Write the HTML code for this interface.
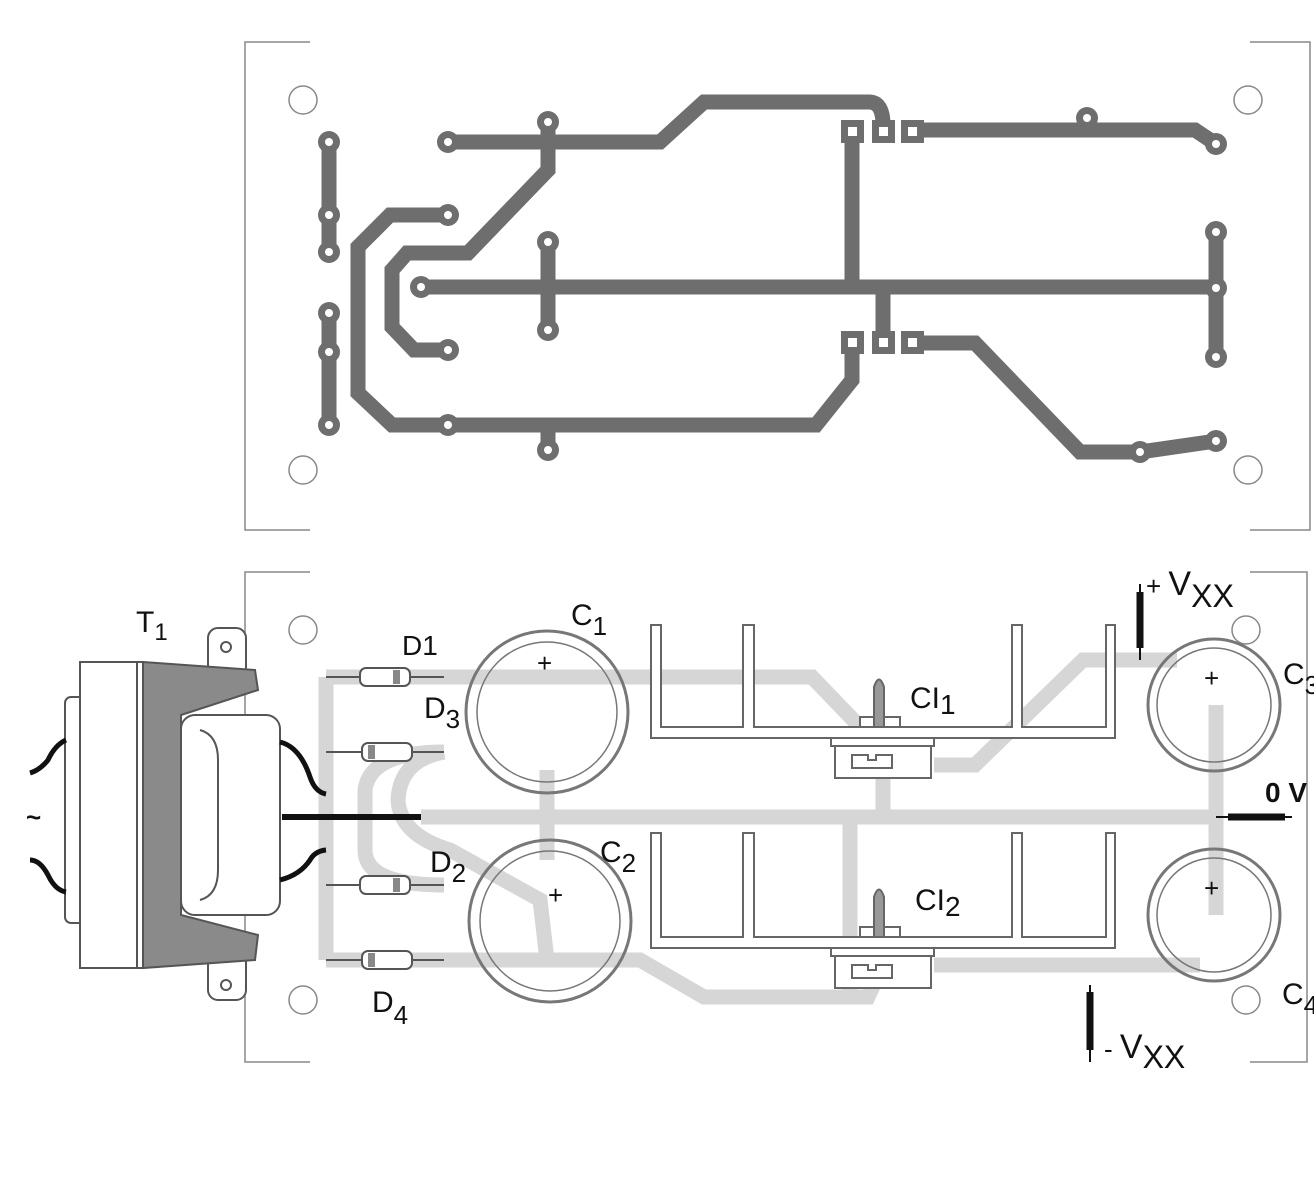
<!DOCTYPE html>
<html><head><meta charset="utf-8"><style>
html,body{margin:0;padding:0;background:#fff;}
svg{display:block;}
text{font-family:"Liberation Sans",Arial,sans-serif;fill:#111;}
</style></head><body>
<svg width="1314" height="1181" viewBox="0 0 1314 1181" xmlns="http://www.w3.org/2000/svg">
<rect width="1314" height="1181" fill="#fff"/>
<!-- TOP PCB outline -->
<g stroke="#888" stroke-width="1.5" fill="none">
<path d="M310 42 H245 V530 H310"/>
<path d="M1250 42 H1310 V530 H1250"/>
<circle cx="303" cy="100" r="14"/><circle cx="303" cy="470" r="14"/>
<circle cx="1248" cy="100" r="14"/><circle cx="1248" cy="470" r="14"/>
</g>
<g stroke="#6e6e6e" stroke-width="15" fill="none" stroke-linejoin="miter">
<path d="M329 142 V252"/><path d="M329 313 V425"/>
<path d="M448 142 H660 L704 102 H869 Q883 102 883 125 V132"/>
<path d="M548 122 V170 L468 253 H407 L392 270 V327 L414 350 H448"/>
<path d="M448 215 H390 L358 247 V393 L392 425 H816 L852 380 V343"/>
<path d="M548 425 V450"/>
<path d="M421 287 H1216"/>
<path d="M548 242 V330"/>
<path d="M852 132 V287"/><path d="M883 287 V343"/>
<path d="M912 130 H1195 L1216 144"/>
<path d="M1216 232 V357"/>
<path d="M1087 118 V130"/>
<path d="M912 343 H975 L1080 452 H1140 L1216 441"/>
</g>
<g fill="#6e6e6e">
<circle cx="329" cy="142" r="11"/><circle cx="329" cy="215" r="11"/><circle cx="329" cy="252" r="11"/>
<circle cx="329" cy="313" r="11"/><circle cx="329" cy="352" r="11"/><circle cx="329" cy="425" r="11"/>
<circle cx="448" cy="142" r="11"/><circle cx="548" cy="122" r="11"/><circle cx="448" cy="215" r="11"/>
<circle cx="421" cy="287" r="11"/><circle cx="548" cy="242" r="11"/><circle cx="548" cy="330" r="11"/>
<circle cx="448" cy="350" r="11"/><circle cx="448" cy="425" r="11"/><circle cx="548" cy="450" r="11"/>
<circle cx="1087" cy="118" r="11"/><circle cx="1216" cy="144" r="11"/><circle cx="1216" cy="232" r="11"/>
<circle cx="1216" cy="288" r="11"/><circle cx="1216" cy="357" r="11"/><circle cx="1216" cy="441" r="11"/>
<circle cx="1140" cy="452" r="11"/>
<rect x="841" y="120" width="23" height="23"/><rect x="872" y="120" width="23" height="23"/><rect x="901" y="120" width="23" height="23"/>
<rect x="841" y="331" width="23" height="23"/><rect x="872" y="331" width="23" height="23"/><rect x="901" y="331" width="23" height="23"/>
</g>
<g fill="#fff">
<circle cx="329" cy="142" r="4"/><circle cx="329" cy="215" r="4"/><circle cx="329" cy="252" r="4"/>
<circle cx="329" cy="313" r="4"/><circle cx="329" cy="352" r="4"/><circle cx="329" cy="425" r="4"/>
<circle cx="448" cy="142" r="4"/><circle cx="548" cy="122" r="4"/><circle cx="448" cy="215" r="4"/>
<circle cx="421" cy="287" r="4"/><circle cx="548" cy="242" r="4"/><circle cx="548" cy="330" r="4"/>
<circle cx="448" cy="350" r="4"/><circle cx="448" cy="425" r="4"/><circle cx="548" cy="450" r="4"/>
<circle cx="1087" cy="118" r="4"/><circle cx="1216" cy="144" r="4"/><circle cx="1216" cy="232" r="4"/>
<circle cx="1216" cy="288" r="4"/><circle cx="1216" cy="357" r="4"/><circle cx="1216" cy="441" r="4"/>
<circle cx="1140" cy="452" r="4"/>
<rect x="848" y="127" width="9" height="9"/><rect x="879" y="127" width="9" height="9"/><rect x="908" y="127" width="9" height="9"/>
<rect x="848" y="338" width="9" height="9"/><rect x="879" y="338" width="9" height="9"/><rect x="908" y="338" width="9" height="9"/>
</g>

<!-- BOTTOM PCB -->
<g stroke="#888" stroke-width="1.5" fill="none">
<path d="M310 572 H245 V1062 H310"/>
<path d="M1250 572 H1307 V1062 H1250"/>
<circle cx="303" cy="630" r="14"/><circle cx="303" cy="1000" r="14"/>
<circle cx="1246" cy="630" r="14"/><circle cx="1246" cy="1000" r="14"/>
</g>
<g stroke="#d6d6d6" stroke-width="15" fill="none">
<path d="M326 677 V960"/>
<path d="M326 677 H812 L863 730"/>
<path d="M326 960 H640 L704 997 H868 L883 965"/>
<path d="M421 817 H1220"/>
<path d="M444 752 Q370 752 365 790 V850 Q365 885 444 885"/>
<path d="M444 752 Q400 760 398 800 Q400 835 450 850 L540 900 L547 960"/>
<path d="M547 770 V860"/>
<path d="M883 778 V817"/><path d="M850 817 V1003"/>
<path d="M934 765 H975 L1083 660 H1177"/>
<path d="M934 965 H1200"/>
<path d="M1216 705 V915"/>
</g>
<!-- Transformer -->
<g stroke="#555" stroke-width="2">
<rect x="208" y="628" width="38" height="50" rx="10" fill="#fff"/>
<rect x="208" y="950" width="38" height="50" rx="10" fill="#fff"/>
<circle cx="226" cy="647" r="5" fill="#fff"/><circle cx="226" cy="985" r="5" fill="#fff"/>
<rect x="65" y="697" width="20" height="226" rx="6" fill="#fff"/>
<path d="M143 662 L255 670 L258 690 L181 715 L181 915 L258 935 L255 960 L143 968 Z" fill="#8a8a8a"/>
<rect x="181" y="715" width="99" height="200" rx="14" fill="#fff"/>
<path d="M200 730 Q218 735 218 760 V870 Q218 895 200 900" fill="none"/>
<rect x="80" y="662" width="63" height="306" fill="#fff"/>
<line x1="137" y1="662" x2="137" y2="968"/>
</g>
<g stroke="#111" stroke-width="5" fill="none">
<path d="M30 773 Q40 770 48 760 Q55 745 66 740"/>
<path d="M30 860 Q40 860 48 875 Q55 890 66 892"/>
<path d="M280 742 Q300 747 310 777 Q315 792 326 794"/>
<path d="M280 880 Q300 875 310 860 Q315 851 326 850"/>
<line x1="282" y1="817" x2="421" y2="817" stroke-width="6"/>
</g>
<text x="26" y="826" font-size="26" font-weight="bold">~</text>
<!-- Diodes -->
<g stroke="#555" stroke-width="2" fill="#fff">
<line x1="326" y1="677" x2="444" y2="677"/><rect x="360" y="668" width="50" height="18" rx="6"/>
<line x1="326" y1="752" x2="444" y2="752"/><rect x="362" y="743" width="50" height="18" rx="6"/>
<line x1="326" y1="885" x2="444" y2="885"/><rect x="360" y="876" width="50" height="18" rx="6"/>
<line x1="326" y1="960" x2="444" y2="960"/><rect x="362" y="951" width="50" height="18" rx="6"/>
</g>
<g fill="#888"><rect x="393" y="670" width="7" height="14"/><rect x="368" y="745" width="7" height="14"/><rect x="393" y="878" width="7" height="14"/><rect x="368" y="953" width="7" height="14"/></g>
<!-- Capacitors -->
<g fill="none" stroke="#777">
<circle cx="547" cy="712" r="81" stroke-width="3"/><circle cx="547" cy="712" r="70" stroke-width="1.5"/>
<circle cx="550" cy="921" r="81" stroke-width="3"/><circle cx="550" cy="921" r="70" stroke-width="1.5"/>
<circle cx="1214" cy="705" r="66" stroke-width="3"/><circle cx="1214" cy="705" r="57" stroke-width="1.5"/>
<circle cx="1214" cy="915" r="66" stroke-width="3"/><circle cx="1214" cy="915" r="57" stroke-width="1.5"/>
</g>
<g font-size="26"><text x="537" y="672">+</text><text x="548" y="904">+</text><text x="1204" y="687">+</text><text x="1204" y="897">+</text></g>
<!-- Heatsinks -->
<g fill="#fff" stroke="#666" stroke-width="2">
<path d="M651 625 H661 V727 H743 V625 H754 V727 H1012 V625 H1022 V727 H1106 V625 H1115 V738 H651 Z"/>
<path d="M651 833 H661 V937 H743 V833 H754 V937 H1012 V833 H1022 V937 H1106 V833 H1115 V948 H651 Z"/>
<rect x="831" y="738" width="103" height="8"/><rect x="835" y="746" width="96" height="32"/>
<path d="M852 755 H868 V760 H876 V755 H892 V768 H852 Z"/>
<rect x="831" y="948" width="103" height="8"/><rect x="835" y="956" width="96" height="32"/>
<path d="M852 965 H868 V970 H876 V965 H892 V978 H852 Z"/>
<rect x="860" y="717" width="40" height="10"/><rect x="860" y="927" width="40" height="10"/>
<path d="M874 727 V687 Q879 672 884 687 V727 Z" fill="#999"/>
<path d="M874 937 V897 Q879 882 884 897 V937 Z" fill="#999"/>
</g>
<!-- terminals -->
<g stroke="#111">
<line x1="1140" y1="584" x2="1140" y2="660" stroke-width="2"/><line x1="1140" y1="592" x2="1140" y2="648" stroke-width="7"/>
<line x1="1090" y1="985" x2="1090" y2="1062" stroke-width="2"/><line x1="1090" y1="992" x2="1090" y2="1050" stroke-width="7"/>
<line x1="1216" y1="817" x2="1292" y2="817" stroke-width="2"/><line x1="1228" y1="817" x2="1285" y2="817" stroke-width="7"/>
</g>
<!-- labels -->
<g font-size="30">
<text x="136" y="632">T<tspan font-size="24" dy="8">1</tspan></text>
<text x="402" y="655" font-size="28">D1</text>
<text x="424" y="718">D<tspan font-size="26" dy="10">3</tspan></text>
<text x="430" y="872">D<tspan font-size="26" dy="10">2</tspan></text>
<text x="372" y="1012">D<tspan font-size="26" dy="12">4</tspan></text>
<text x="571" y="625">C<tspan font-size="26" dy="10">1</tspan></text>
<text x="600" y="862">C<tspan font-size="26" dy="10">2</tspan></text>
<text x="910" y="708">CI<tspan font-size="28" dy="6">1</tspan></text>
<text x="915" y="910">CI<tspan font-size="28" dy="6">2</tspan></text>
<text x="1146" y="595" font-size="26">+ <tspan font-size="34">V</tspan><tspan font-size="32" dy="12">XX</tspan></text>
<text x="1265" y="802" font-size="28" font-weight="bold">0 V</text>
<text x="1283" y="684">C<tspan font-size="26" dy="10">3</tspan></text>
<text x="1282" y="1004">C<tspan font-size="26" dy="10">4</tspan></text>
<text x="1104" y="1058" font-size="26">- <tspan font-size="34">V</tspan><tspan font-size="32" dy="10">XX</tspan></text>
</g>
</svg>
</body></html>
